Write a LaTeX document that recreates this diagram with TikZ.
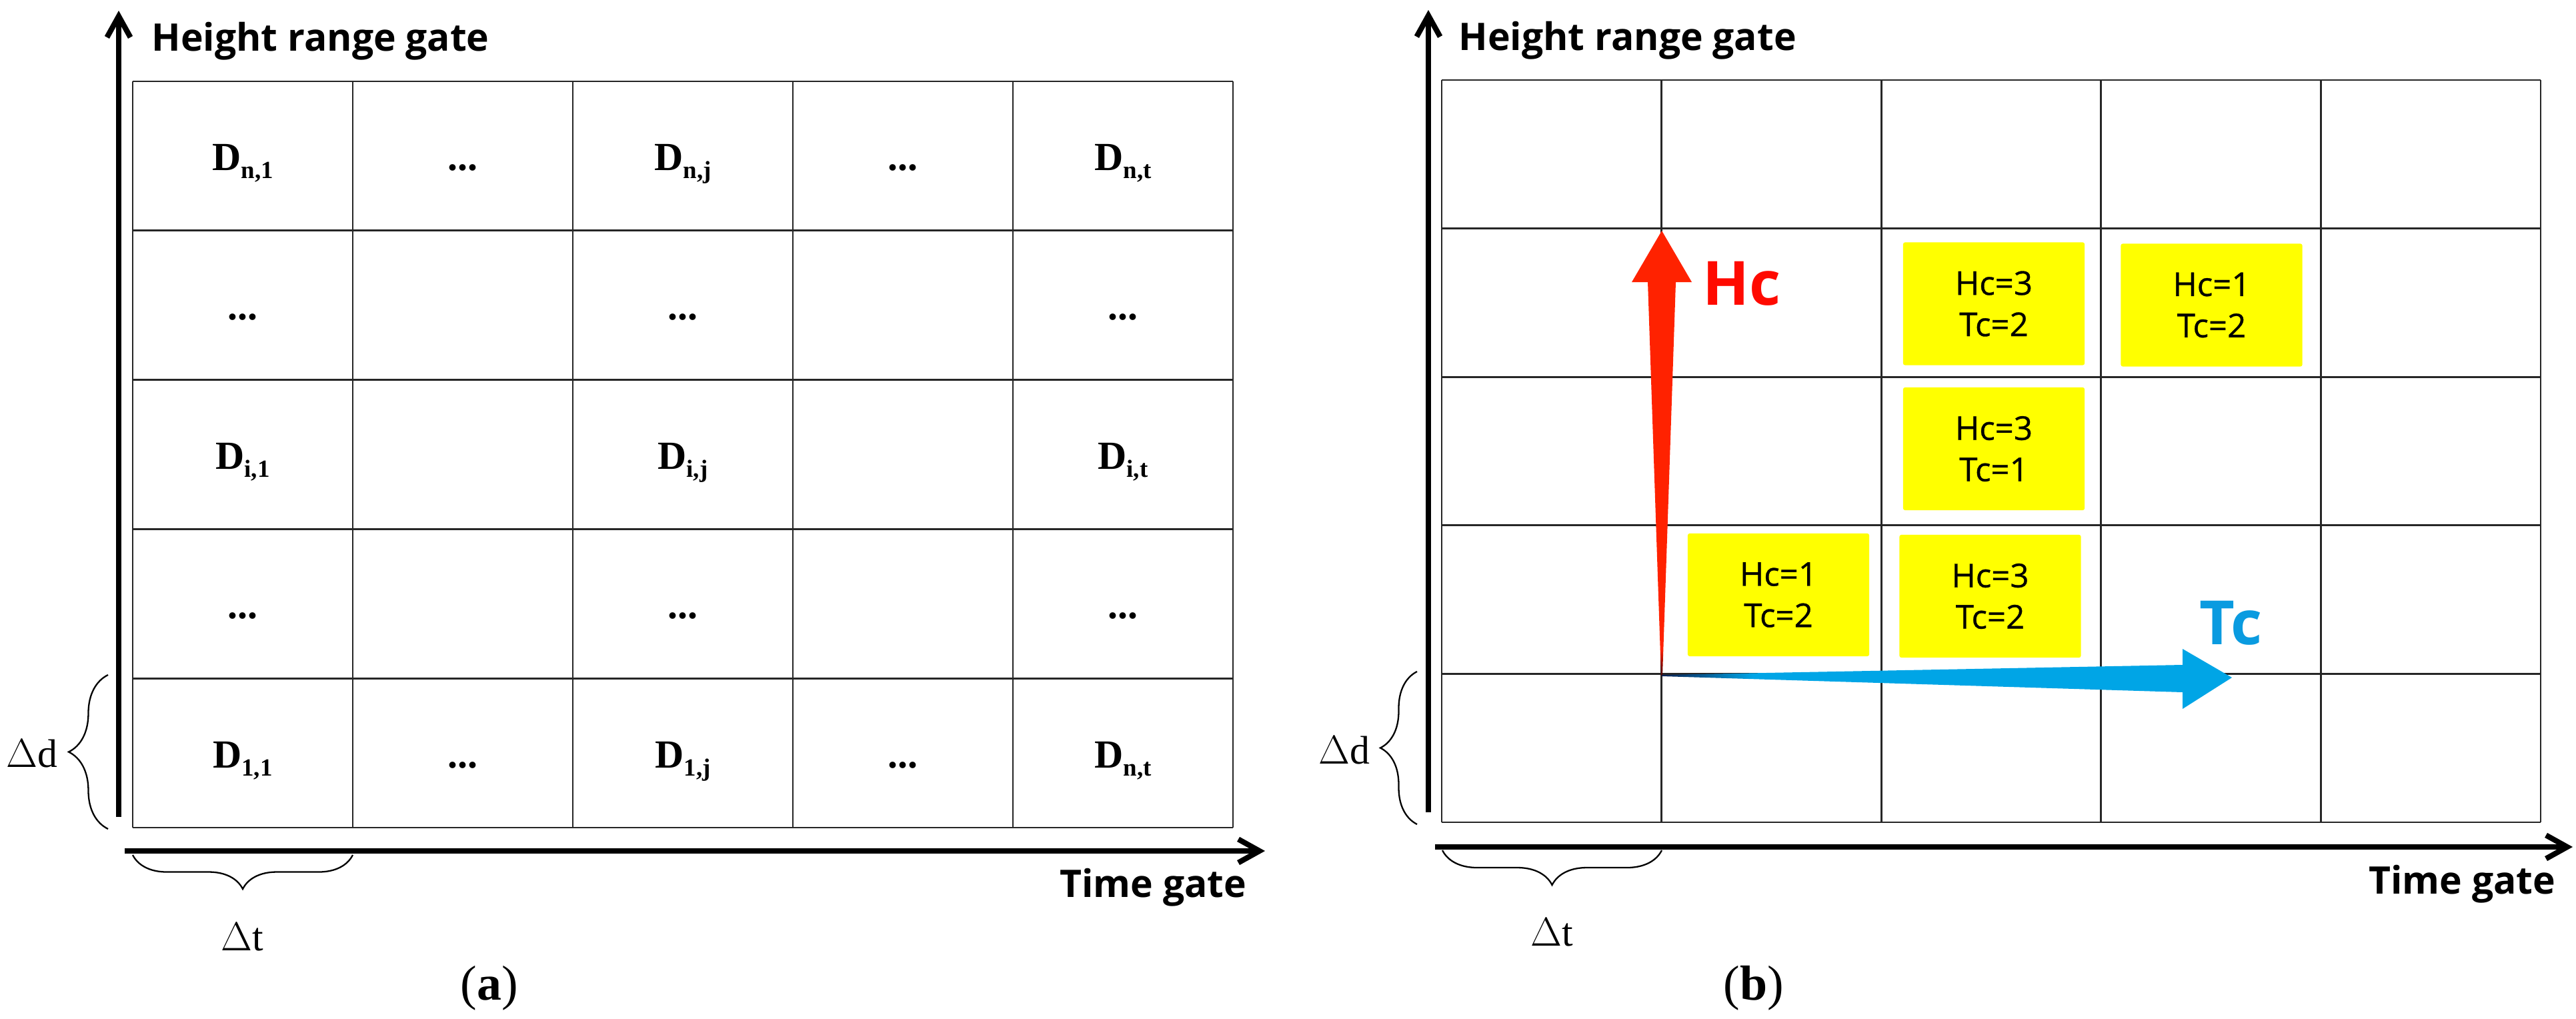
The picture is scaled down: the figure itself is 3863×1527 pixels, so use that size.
\documentclass[tikz,border=0pt]{standalone}
\usepackage{fontspec}
\setmainfont{Liberation Serif}
\setsansfont{Open Sans}
\newfontfamily\boxfont[FakeBold=0.6]{Open Sans}
\usetikzlibrary{arrows.meta,decorations.pathreplacing}

\definecolor{hcred}{HTML}{FF2200}
\definecolor{hctext}{HTML}{FF0A00}
\definecolor{hcdark}{HTML}{4A0000}
\definecolor{tcblue}{HTML}{00A5E6}
\definecolor{tctext}{HTML}{0A9BE0}
\definecolor{tcdark}{HTML}{0A1E50}
\definecolor{boxyellow}{HTML}{FFFF00}

\pgfdeclareverticalshading{hcshade}{100bp}{color(0bp)=(hcdark); color(25bp)=(hcdark); color(28bp)=(hcred); color(100bp)=(hcred)}
\pgfdeclarehorizontalshading{tcshade}{100bp}{color(0bp)=(tcdark); color(25bp)=(tcdark); color(33bp)=(tcblue); color(100bp)=(tcblue)}

\newcommand{\dlab}[1]{\textbf{D}\raisebox{-0.2em}{\fontsize{10.5}{10.5}\selectfont\textbf{#1}}}

\tikzset{
  gridline/.style={line width=0.8pt, black!85},
  axisline/.style={line width=2.3pt, black, -{Straight Barb[length=9pt,width=10pt,line width=2.3pt]}},
  bracestyle/.style={line width=0.65pt, decorate},
  dtext/.style={inner sep=0pt, anchor=base, font=\fontsize{17}{17}\selectfont},
  gatelabel/.style={inner sep=0pt, font=\sffamily\bfseries\fontsize{16.2}{19}\selectfont},
  deltatext/.style={inner sep=0pt, font=\fontsize{17}{17}\selectfont},
  ybox/.style={fill=boxyellow, rounded corners=0.8pt, minimum width=2.72cm, minimum height=1.84cm, inner sep=0pt, align=center, font=\boxfont\fontsize{14}{17.6}\selectfont},
  bigc/.style={inner sep=0pt, anchor=base west, font=\sffamily\bfseries\fontsize{26}{26}\selectfont},
  panellabel/.style={inner sep=0pt, font=\fontsize{21}{21}\selectfont}
}

\begin{document}
\begin{tikzpicture}[x=0.01cm,y=-0.01cm]
\useasboundingbox (0,0) rectangle (3863,1527);
\fill[white] (0,0) rectangle (3863,1527);

% ================= panel (a) =================
\foreach \i in {0,...,5} \draw[gridline] (199+330*\i,122) -- (199+330*\i,1241);
\foreach \j in {0,...,5} \draw[gridline] (199,122+223.8*\j) -- (1849,122+223.8*\j);

\coordinate (aVbot) at (178,1225);
\coordinate (aVtop) at (178,16);
\coordinate (aHleft) at (187,1276);
\coordinate (aHright) at (1897,1276);
\draw[axisline] (aVbot) -- (aVtop);
\draw[axisline] (aHleft) -- (aHright);

\node[gatelabel, anchor=base west] (aHead) at (227,76) {Height range gate};
\node[gatelabel, anchor=base east] (aTime) at (1870,1345) {Time gate};

% cell texts
\node[dtext] (a11) at (364,255.9) {\dlab{n,1}};
\node[dtext] (a12) at (694,255.9) {\textbf{...}};
\node[dtext] (a13) at (1024,255.9) {\dlab{n,j}};
\node[dtext] (a14) at (1354,255.9) {\textbf{...}};
\node[dtext] (a15) at (1684,255.9) {\dlab{n,t}};
\node[dtext] (a21) at (364,479.7) {\textbf{...}};
\node[dtext] (a23) at (1024,479.7) {\textbf{...}};
\node[dtext] (a25) at (1684,479.7) {\textbf{...}};
\node[dtext] (a31) at (364,703.5) {\dlab{i,1}};
\node[dtext] (a33) at (1024,703.5) {\dlab{i,j}};
\node[dtext] (a35) at (1684,703.5) {\dlab{i,t}};
\node[dtext] (a41) at (364,927.3) {\textbf{...}};
\node[dtext] (a43) at (1024,927.3) {\textbf{...}};
\node[dtext] (a45) at (1684,927.3) {\textbf{...}};
\node[dtext] (a51) at (364,1151.1) {\dlab{1,1}};
\node[dtext] (a52) at (694,1151.1) {\textbf{...}};
\node[dtext] (a53) at (1024,1151.1) {\dlab{1,j}};
\node[dtext] (a54) at (1354,1151.1) {\textbf{...}};
\node[dtext] (a55) at (1684,1151.1) {\dlab{n,t}};

% braces
\coordinate (aDdA) at (162,1243);
\coordinate (aDdB) at (162,1012);
\draw[bracestyle, decoration={brace, amplitude=0.59cm}] (aDdA) -- (aDdB);
\node[deltatext] (aDd) at (48,1130) {$\Delta$d};
\coordinate (aDtA) at (529,1282);
\coordinate (aDtB) at (199,1282);
\draw[bracestyle, decoration={brace, amplitude=0.51cm}] (aDtA) -- (aDtB);
\node[deltatext] (aDt) at (363,1405) {$\Delta$t};

\node[panellabel] (labA) at (734,1482) {(\textbf{a})};

% ================= panel (b) =================
\foreach \i in {0,...,5} \draw[gridline] (2162+329.6*\i,120) -- (2162+329.6*\i,1233);
\foreach \j in {0,...,5} \draw[gridline] (2162,120+222.6*\j) -- (3810,120+222.6*\j);

\coordinate (bVbot) at (2142,1218);
\coordinate (bVtop) at (2142,15);
\coordinate (bHleft) at (2152,1270);
\coordinate (bHright) at (3858,1270);
\draw[axisline] (bVbot) -- (bVtop);
\draw[axisline] (bHleft) -- (bHright);

\node[gatelabel, anchor=base west] (bHead) at (2187,75) {Height range gate};
\node[gatelabel, anchor=base east] (bTime) at (3833,1340) {Time gate};

% yellow boxes
\node[ybox] (y1) at (2990,455.5) {Hc=3\\Tc=2};
\node[ybox] (y2) at (3316.5,457.5) {Hc=1\\Tc=2};
\node[ybox] (y3) at (2990,673) {Hc=3\\Tc=1};
\node[ybox] (y4) at (2667,892) {Hc=1\\Tc=2};
\node[ybox] (y5) at (2984.5,894) {Hc=3\\Tc=2};

% Hc / Tc arrows
\coordinate (orig) at (2492,1013);
\shade[shading=hcshade] (2491,1013) -- (2471,423) -- (2447,423) -- (2492,346) -- (2537,423) -- (2513,423) -- (2493,1013) -- cycle;
\shade[shading=tcshade] (2492,1012) -- (3273,997) -- (3273,973) -- (3347,1016) -- (3273,1063) -- (3273,1038) -- (2492,1014) -- cycle;
\node[bigc, text=hctext] (hcLab) at (2553,457) {Hc};
\node[bigc, text=tctext] (tcLab) at (3298,966) {Tc};

% braces
\coordinate (bDdA) at (2125,1236);
\coordinate (bDdB) at (2125,1007);
\draw[bracestyle, decoration={brace, amplitude=0.55cm}] (bDdA) -- (bDdB);
\node[deltatext] (bDd) at (2016,1125) {$\Delta$d};
\coordinate (bDtA) at (2492,1275);
\coordinate (bDtB) at (2163,1275);
\draw[bracestyle, decoration={brace, amplitude=0.52cm}] (bDtA) -- (bDtB);
\node[deltatext] (bDt) at (2327,1398) {$\Delta$t};

\node[panellabel] (labB) at (2630,1482) {(\textbf{b})};
\end{tikzpicture}
\end{document}
